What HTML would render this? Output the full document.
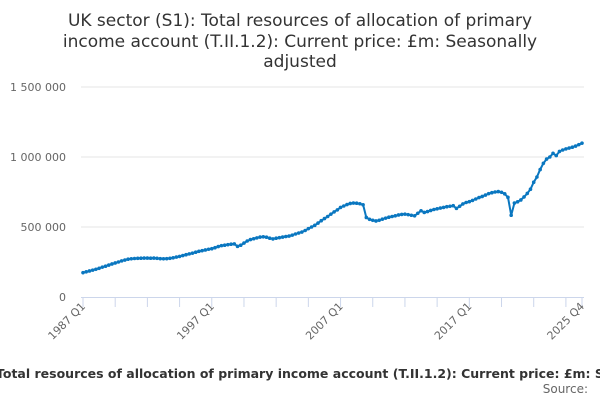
<!DOCTYPE html>
<html><head><meta charset="utf-8"><style>
body{margin:0;background:#fff;width:600px;height:400px;overflow:hidden;font-family:"Liberation Sans","DejaVu Sans",sans-serif}
</style></head><body>
<svg id="c" width="600" height="400" xmlns="http://www.w3.org/2000/svg" style="font-family:'DejaVu Sans','Liberation Sans',sans-serif">
<g fill="#333" font-size="17" text-anchor="middle">
<text x="300" y="26">UK sector (S1): Total resources of allocation of primary</text>
<text x="300" y="47">income account (T.II.1.2): Current price: £m: Seasonally</text>
<text x="300" y="67">adjusted</text>
</g>
<g id="grid"></g>
<g id="yl"></g>
<g id="xa"></g>
<g id="series"></g>
<text x="-4" y="378" text-anchor="start" font-size="12.5" font-weight="bold" fill="#333">Total resources of allocation of primary income account (T.II.1.2): Current price: £m: Seasonally adjusted</text>
<text x="588" y="393" text-anchor="end" font-size="12" fill="#666">Source:</text>
</svg>
<script>
const years=[1987,1988,1989,1990,1991,1992,1993,1994,1995,1996,1997,1998,1999,2000,2001,2002,2003,2004,2005,2006,2007,2008,2009,2010,2011,2012,2013,2014,2015,2016,2017,2018,2019,2020,2021,2022,2023,2024,2025];
const values=[174,180,186,192,198,205,213,220,228,236,243,250,258,264,270,273,275,276,277,278,278,277,278,276,274,273,274,276,280,285,290,296,302,308,313,320,326,331,336,341,345,352,360,367,370,374,377,379,362,370,385,400,410,416,422,428,430,427,420,415,420,424,428,432,435,442,450,457,464,475,488,500,512,528,545,560,575,592,608,622,640,650,660,668,671,670,666,659,568,555,548,543,548,556,563,570,575,580,586,590,592,588,584,580,598,616,604,610,618,625,630,635,640,645,648,652,633,648,665,675,681,690,700,710,718,728,738,745,750,753,748,737,712,584,671,680,693,715,740,770,820,857,910,955,985,1000,1026,1010,1040,1050,1058,1064,1070,1078,1088,1099];
const yTicks=[0,500000,1000000,1500000];
const yTickLabels=["0","500 000","1 000 000","1 500 000"];
const xLabelIdx=[0,40,80,120,155];
const xLabels=["1987 Q1","1997 Q1","2007 Q1","2017 Q1","2025 Q4"];
const NS="http://www.w3.org/2000/svg";
const x0=83,x1=582,y0=297,yTop=87,yMax=1500000;
const N=values.length;
const xs=i=>x0+(x1-x0)*i/(N-1);
const ys=v=>y0-(y0-yTop)*v/yMax;
function mk(t,a,p){const e=document.createElementNS(NS,t);for(const k in a)e.setAttribute(k,a[k]);p.appendChild(e);return e;}
const grid=document.getElementById('grid'),yl=document.getElementById('yl'),xa=document.getElementById('xa'),se=document.getElementById('series');
yTicks.forEach((t,i)=>{
 if(t>0){const g=mk('line',{x1:x0-2,x2:x1+2,y1:ys(t),y2:ys(t),stroke:'#e6e6e6','stroke-width':1},grid);
 
 }
 const l=mk('text',{x:66,y:ys(t)+4,'text-anchor':'end','font-size':11,fill:'#666'},yl);l.textContent=yTickLabels[i];
 
 
});
const ax=mk('line',{x1:x0-2,x2:x1+2,y1:y0+0.5,y2:y0+0.5,stroke:'#ccd6eb'},xa);


for(let i=0;i<N;i+=10){const t=mk('line',{x1:xs(i),x2:xs(i),y1:y0,y2:y0+10,stroke:'#ccd6eb'},xa);
 
 }
const lt=mk('line',{x1:xs(N-1),x2:xs(N-1),y1:y0,y2:y0+10,stroke:'#ccd6eb'},xa);


xLabelIdx.forEach((idx,i)=>{const x=xs(idx)+3,y=y0+10;
 const l=mk('text',{x:x,y:y,'text-anchor':'end','font-size':11,fill:'#666',transform:`rotate(-45 ${x} ${y})`},xa);l.textContent=xLabels[i];
 
 
});
const pts=values.map((v,i)=>xs(i).toFixed(1)+','+ys(v*1000).toFixed(1)).join(' ');
const pl=mk('polyline',{points:pts,fill:'none',stroke:'#0a77c0','stroke-width':2},se);


values.forEach((v,i)=>{const c=mk('circle',{cx:xs(i),cy:ys(v*1000),r:1.8,fill:'#0a77c0'},se);
 
 });
</script>
</body></html>
